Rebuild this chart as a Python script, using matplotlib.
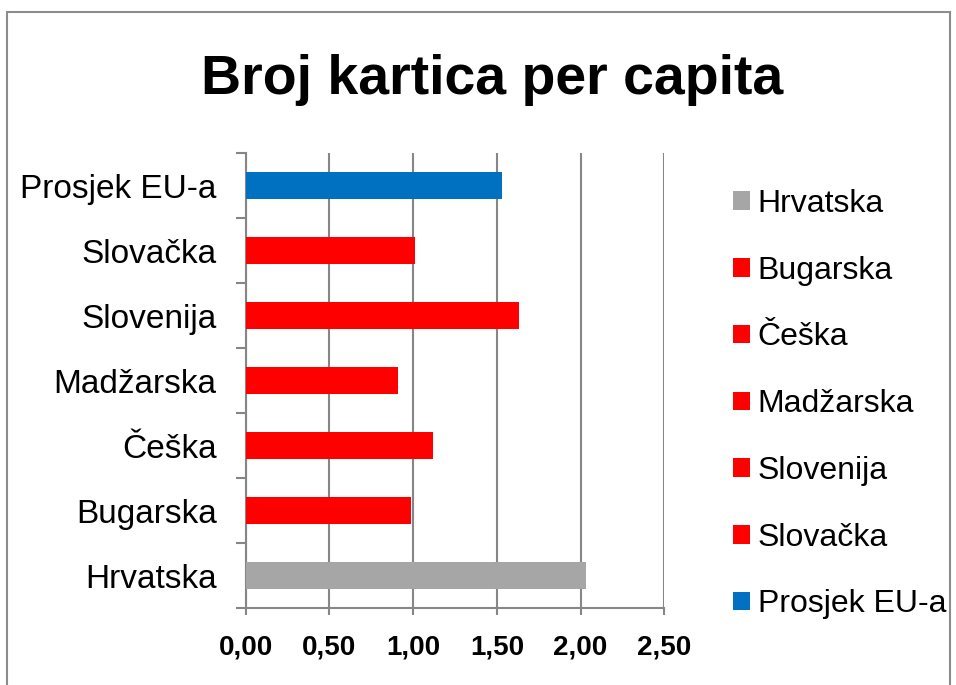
import matplotlib
matplotlib.use("Agg")
import matplotlib.pyplot as plt
from matplotlib.patches import Patch, Rectangle
from matplotlib import font_manager

categories = ["Hrvatska", "Bugarska", "Češka", "Madžarska", "Slovenija", "Slovačka", "Prosjek EU-a"]
values = [2.03, 0.99, 1.12, 0.91, 1.63, 1.01, 1.53]
colors = ["#A6A6A6", "#FF0000", "#FF0000", "#FF0000", "#FF0000", "#FF0000", "#0070C0"]
xticks = [0.0, 0.5, 1.0, 1.5, 2.0, 2.5]
xticklabels = ["0,00", "0,50", "1,00", "1,50", "2,00", "2,50"]
title = "Broj kartica per capita"

names = {f.name for f in font_manager.fontManager.ttflist}
fam = "Liberation Sans Narrow" if "Liberation Sans Narrow" in names else "Liberation Sans"
plt.rcParams['font.family'] = [fam, "DejaVu Sans"]

fig = plt.figure(figsize=(9.56, 6.85), dpi=100)
fig.patches.append(Rectangle((7/956, -0.1), (950-7)/956, 1 - 12/685 + 0.1, transform=fig.transFigure,
                             fill=False, edgecolor="#8C8C8C", linewidth=1.5))

ax = fig.add_axes([245.7/956, 1-608.3/685, (664.3-245.7)/956, (608.3-153.3)/685])
y = list(range(len(categories)))
ax.barh(y, values, height=0.41, color=colors, zorder=3)
ax.set_xlim(0, 2.5)
ax.set_ylim(-0.5, len(categories)-0.5)
ax.set_xticks(xticks)
ax.set_xticklabels(xticklabels, fontsize=20, fontweight="bold")
ax.set_yticks(y)
ax.set_yticklabels(categories, fontsize=24)
ax.set_yticks([i - 0.5 for i in range(len(categories)+1)], minor=True)
ax.tick_params(axis="y", which="major", length=0, pad=21)
ax.tick_params(axis="y", which="minor", length=7, width=1.5, color="#868686", direction="out")
ax.tick_params(axis="x", which="major", length=5, width=1.5, color="#868686", direction="out", pad=14)
ax.grid(axis="x", color="#868686", linewidth=1.5, zorder=0)
for s in ["top", "right"]:
    ax.spines[s].set_visible(False)
for s in ["left", "bottom"]:
    ax.spines[s].set_color("#868686")
    ax.spines[s].set_linewidth(1.5)

fig.text(492/956, 1-80/685, title, ha="center", va="center", fontsize=40, fontweight="bold")

handles = [Patch(facecolor=c, edgecolor="none") for c in colors]
fig.legend(handles, categories, loc="upper left", bbox_to_anchor=(733/956, 1-189/685),
           frameon=False, fontsize=23, handlelength=0.52, handleheight=0.52,
           handletextpad=0.25, labelspacing=1.15, borderpad=0, borderaxespad=0)

fig.savefig("out.png", dpi=100)
